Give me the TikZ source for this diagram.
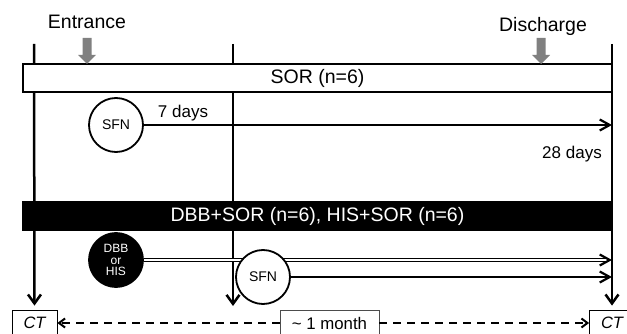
\documentclass[tikz,border=0pt]{standalone}
\usepackage{fontspec}
\setmainfont{Liberation Sans}
\usetikzlibrary{arrows.meta}
\begin{document}
\begin{tikzpicture}[x=1pt,y=-1pt,
  vline/.style={line width=2.5pt,-{Straight Barb[length=9pt,width=13pt]}},
  harrow/.style={line width=2.2pt,-{Straight Barb[length=10pt,width=11pt]}},
  circ/.style={circle,draw,line width=1.8pt,minimum size=54pt,inner sep=0pt,fill=white},
  band/.style={draw,line width=1.8pt,minimum height=28pt,minimum width=589pt,inner sep=0pt,font=\fontsize{19.5}{22}\selectfont},
  lbl/.style={anchor=base,inner sep=0pt},
  ctbox/.style={draw,line width=0.8pt,minimum width=45pt,minimum height=26pt,inner sep=0pt,font=\fontsize{16.5}{18}\selectfont\itshape},
  dasharrow/.style={line width=2pt,dash pattern=on 8pt off 6pt,-{Straight Barb[length=6pt,width=9pt]}},
  grayarrow/.style={fill=black!50}
]
\useasboundingbox (0,0) rectangle (627,334);
\clip (0,0) rectangle (627,334);
% bottom boxes
\node[ctbox] (ct1) at (34.5,323) {CT};
\node[ctbox] (ct2) at (612,323) {CT};
\node[draw=black!70,line width=0.8pt,minimum width=99pt,minimum height=26pt,inner sep=0pt,font=\fontsize{16.8}{18}\selectfont] (month) at (329.5,323) {\textasciitilde{} 1 month};
% vertical lines
\coordinate (t1) at (34,44);
\coordinate (t2) at (233,44);
\coordinate (t3) at (612,44);
\coordinate (b2) at (233,306);
\draw[vline,shorten >=4pt] (t1) -- (ct1.north);
\draw[vline] (t2) -- (b2);
\draw[vline,shorten >=4pt] (t3) -- (ct2.north);
% bands
\node[band,fill=white] (sor) at (317.5,78) {SOR (n=6)};
\node[band,fill=black,text=white] (dbbsor) at (317.5,216) {DBB+SOR (n=6), HIS+SOR (n=6)};
% labels at top
\node[lbl,font=\fontsize{19.5}{22}\selectfont] (entr) at (87,29) {Entrance};
\node[lbl,font=\fontsize{19.5}{22}\selectfont] (disc) at (543,32) {Discharge};
\fill[grayarrow] (82.5,38) -- (91.5,38) -- (91.5,55) -- (96,55) -- (87,64) -- (78,55) -- (82.5,55) -- cycle;
\fill[grayarrow] (536.5,38) -- (545.5,38) -- (545.5,55) -- (550,55) -- (541,64) -- (532,55) -- (536.5,55) -- cycle;
% SOR group
\node[circ,font=\fontsize{14}{16}\selectfont] (sfn1) at (116,125) {SFN};
\coordinate (e1) at (612,125);
\draw[harrow] (sfn1.east) -- (e1);
\node[lbl,font=\fontsize{17}{19}\selectfont] (d7) at (183,118) {7 days};
\node[lbl,font=\fontsize{17}{19}\selectfont] (d28) at (572,159) {28 days};
% DBB / HIS group
\node[circ,fill=black,text=white,font=\fontsize{12}{11.5}\selectfont,align=center] (dbb) at (116,260) {DBB\\or\\HIS};
\coordinate (e2) at (612,260);
\draw[line width=1.2pt,double=white,double distance=1.6pt,shorten >=3pt] (dbb.east) -- (e2);
\draw[harrow] ([xshift=-4pt]e2) -- (e2);
\node[circ,font=\fontsize{14}{16}\selectfont] (sfn2) at (263,277) {SFN};
\coordinate (e3) at (612,277);
\draw[harrow] (sfn2.east) -- (e3);
% dashed arrows
\draw[dasharrow] (month.west) -- (ct1.east);
\draw[dasharrow] (month.east) -- (ct2.west);
\end{tikzpicture}
\end{document}
